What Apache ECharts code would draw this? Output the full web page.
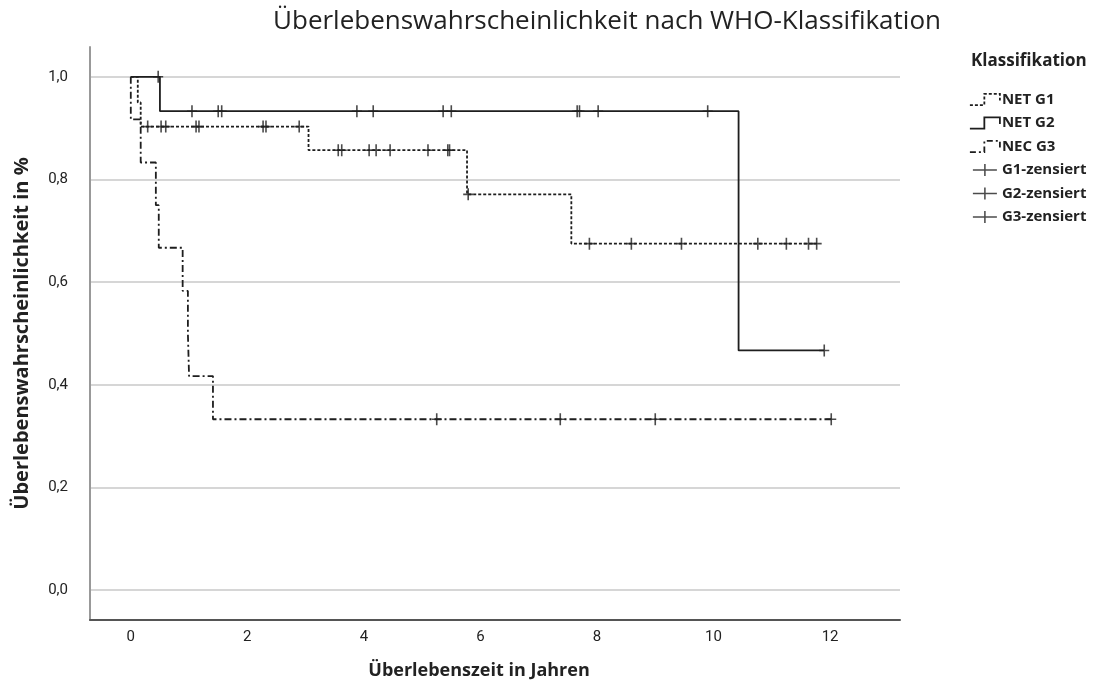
<!DOCTYPE html>
<html>
<head>
<meta charset="utf-8">
<script src="https://cdn.jsdelivr.net/npm/echarts@6/dist/echarts.min.js"></script>
<style>
  html, body { margin: 0; padding: 0; background: #fff; }
  #main { width: 1101px; height: 686px; }
</style>
</head>
<body>
<div id="main"></div>
<script>
// tick labels
const xTicks = [0, 2, 4, 6, 8, 10, 12];
const yTicks = [0, 0.2, 0.4, 0.6, 0.8, 1.0];

// Kaplan-Meier steps (time in years, survival after the event)
const g1Times = [0, 0.12, 0.17, 3.05, 5.77, 7.56, 11.8];
const g1Surv  = [1, 0.95, 0.903, 0.857, 0.771, 0.675, 0.675];
const g2Times = [0, 0.5, 10.43, 11.9];
const g2Surv  = [1, 0.933, 0.467, 0.467];
const g3Times = [0, 0, 0.17, 0.43, 0.48, 0.89, 0.98, 1.0, 1.41, 12.03];
const g3Surv  = [1, 0.917, 0.833, 0.75, 0.667, 0.583, 0.5, 0.417, 0.333, 0.333];

// censored times
const g1Censor = [0.29, 0.52, 0.6, 1.12, 1.17, 2.27, 2.32, 2.89, 3.56, 3.62, 4.09, 4.21, 4.45, 5.1, 5.44, 5.47, 5.79, 7.87, 8.59, 9.45, 10.76, 11.25, 11.63, 11.77];
const g2Censor = [0.47, 1.05, 1.5, 1.56, 3.88, 4.16, 5.36, 5.5, 7.66, 7.7, 8.02, 9.9, 11.9];
const g3Censor = [5.25, 7.37, 9.0, 12.02];

function steps(times, surv) {
  let out = [];
  for (let i = 0; i < times.length; i++) out.push([times[i], surv[i]]);
  return out;
}
function survAt(times, surv, t) {
  let s = surv[0];
  for (let i = 0; i < times.length; i++) {
    if (times[i] <= t) s = surv[i];
  }
  return s;
}
function censorPoints(times, surv, cens) {
  return cens.map(t => [t, survAt(times, surv, t)]);
}

const ink = '#1e1e1e';
const plus = 'path://M4.2,0 H5.8 V5.2 H10 V6.8 H5.8 V12 H4.2 V6.8 H0 V5.2 H4.2 Z';
const plusIcon = 'path://M0,6.1 H13.1 V0 H14.9 V6.1 H28 V7.9 H14.9 V14 H13.1 V7.9 H0 Z';
const stepIcon = 'path://M0,11 H13 V1 H27 V7';

const fontMain = '"Open Sans", "Noto Sans", sans-serif';

let option = {
  animation: false,
  backgroundColor: '#fff',
  title: [
    {
      text: 'Überlebenswahrscheinlichkeit nach WHO-Klassifikation',
      left: 602, top: 4, textAlign: 'center',
      textStyle: { fontFamily: fontMain, fontSize: 26, fontWeight: 'normal', color: '#222' }
    },
    {
      text: 'Klassifikation',
      left: 966, top: 48,
      textStyle: { fontFamily: fontMain, fontSize: 17, fontWeight: 'bold', color: '#222' }
    }
  ],
  legend: {
    orient: 'vertical',
    left: 964, top: 87,
    itemWidth: 30, itemHeight: 12, itemGap: 8.5,
    textStyle: { fontFamily: fontMain, fontSize: 15, fontWeight: 'bold', color: '#222', padding: [0, 0, 0, -3] },
    data: [
      { name: 'NET G1', icon: stepIcon, itemStyle: { color: 'rgba(0,0,0,0)', borderColor: ink, borderWidth: 1.8, borderType: [3, 2] } },
      { name: 'NET G2', icon: stepIcon, itemStyle: { color: 'rgba(0,0,0,0)', borderColor: ink, borderWidth: 1.8 } },
      { name: 'NEC G3', icon: stepIcon, itemStyle: { color: 'rgba(0,0,0,0)', borderColor: ink, borderWidth: 1.8, borderType: [6, 3, 2, 3] } },
      { name: 'G1-zensiert', icon: plusIcon },
      { name: 'G2-zensiert', icon: plusIcon },
      { name: 'G3-zensiert', icon: plusIcon }
    ]
  },
  grid: { left: 90, right: 201, top: 47, bottom: 66 },
  xAxis: {
    type: 'value',
    min: -0.7, max: 13.2,
    name: 'Überlebenszeit in Jahren',
    nameLocation: 'middle',
    nameGap: 42,
    nameTextStyle: { fontFamily: fontMain, fontSize: 18, fontWeight: 'bold', color: '#222', padding: [0, 32, 0, 0] },
    axisLine: { show: true, onZero: false, lineStyle: { color: '#555', width: 2 } },
    axisTick: { show: false, customValues: xTicks },
    axisLabel: { customValues: xTicks, margin: 10, fontFamily: 'Roboto, sans-serif', fontSize: 15, color: '#222' },
    splitLine: { show: false }
  },
  yAxis: {
    type: 'value',
    min: -0.058, max: 1.058,
    name: 'Überlebenswahrscheinlichkeit in %',
    nameLocation: 'middle',
    nameGap: 58,
    nameTextStyle: { fontFamily: fontMain, fontSize: 20, fontWeight: 'bold', color: '#222' },
    axisLine: { show: true, onZero: false, lineStyle: { color: '#999', width: 2 } },
    axisTick: { show: false, customValues: yTicks },
    axisLabel: {
      customValues: yTicks, margin: 22, fontFamily: 'Roboto, sans-serif', fontSize: 15, color: '#222',
      formatter: v => v.toFixed(1).replace('.', ',')
    },
    splitLine: { show: true, lineStyle: { color: '#c8c8c8', width: 1.5 } }
  },
  series: [
    {
      name: 'NET G1', type: 'line', step: 'end', symbol: 'none',
      lineStyle: { color: ink, width: 1.8, type: [3, 2] },
      itemStyle: { color: ink },
      data: steps(g1Times, g1Surv)
    },
    {
      name: 'NET G2', type: 'line', step: 'end', symbol: 'none',
      lineStyle: { color: ink, width: 1.8 },
      itemStyle: { color: ink },
      data: steps(g2Times, g2Surv)
    },
    {
      name: 'NEC G3', type: 'line', step: 'end', symbol: 'none',
      lineStyle: { color: ink, width: 1.8, type: [7, 3, 2, 3] },
      itemStyle: { color: ink },
      data: steps(g3Times, g3Surv)
    },
    {
      name: 'G1-zensiert', type: 'scatter', symbol: plus, symbolSize: [10, 12],
      itemStyle: { color: ink }, z: 3,
      data: censorPoints(g1Times, g1Surv, g1Censor)
    },
    {
      name: 'G2-zensiert', type: 'scatter', symbol: plus, symbolSize: [10, 12],
      itemStyle: { color: ink }, z: 3,
      data: censorPoints(g2Times, g2Surv, g2Censor)
    },
    {
      name: 'G3-zensiert', type: 'scatter', symbol: plus, symbolSize: [10, 12],
      itemStyle: { color: ink }, z: 3,
      data: censorPoints(g3Times, g3Surv, g3Censor)
    }
  ]
};

let myChart = echarts.init(document.getElementById('main'));
option && myChart.setOption(option);
</script>
</body>
</html>
